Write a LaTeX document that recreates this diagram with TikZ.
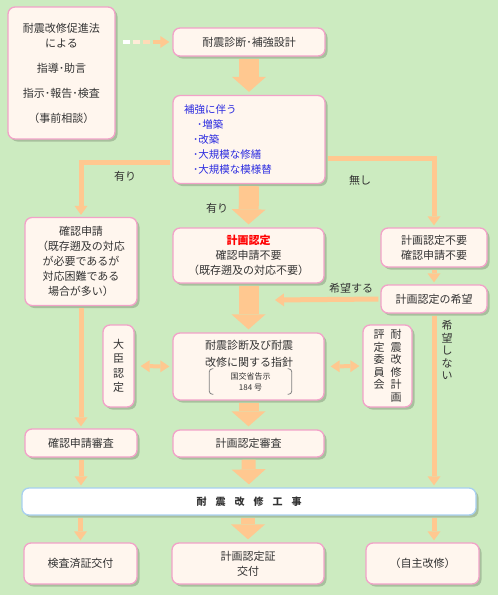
\documentclass[tikz,border=0pt]{standalone}
\usepackage{fontspec}
\setmainfont{Noto Sans CJK JP}
\usetikzlibrary{arrows.meta,shadows,calc}
\definecolor{bggreen}{HTML}{CCEBC0}
\definecolor{boxfill}{HTML}{FFF6EE}
\definecolor{boxpink}{HTML}{F2A2C8}
\definecolor{peach}{HTML}{FFC890}
\definecolor{skyline}{HTML}{A8D0F0}
\definecolor{ink}{HTML}{333333}
\definecolor{bluetext}{HTML}{2B2BE0}
\tikzset{
  box/.style={draw=boxpink, line width=1.3pt, fill=boxfill, rounded corners=7pt,
    text=ink, align=center, inner sep=0pt,
    drop shadow={shadow xshift=2.5pt, shadow yshift=-2.5pt, fill=black, opacity=0.18}},
  big/.style={draw=peach, line width=20pt, shorten <=2pt, shorten >=3pt,
    -{Triangle[width=34pt,length=15pt,line width=0pt]}},
  thin/.style={draw=peach, line width=5pt, shorten <=2pt, shorten >=2pt,
    -{Triangle[width=13pt,length=9pt,line width=0pt]}},
  both/.style={draw=peach, line width=4pt, shorten <=6pt, shorten >=3pt,
    {Triangle[width=12pt,length=9pt,line width=0pt]}-{Triangle[width=12pt,length=9pt,line width=0pt]}},
  tag/.style={text=ink}
}
\begin{document}
\begin{tikzpicture}[x=1pt,y=-1pt,font=\fontsize{11}{15}\selectfont]
\useasboundingbox (0,0) rectangle (498,595);
\fill[bggreen] (0,0) rectangle (498,595);

% boxes
\node[box, minimum width=107pt, minimum height=132pt] (law) at (61.5,73)
  {耐震改修促進法\\による\\[10pt]指導･助言\\[10pt]指示･報告･検査\\[10pt]（事前相談）};
\node[box, minimum width=152pt, minimum height=28pt] (design) at (249,42) {耐震診断･補強設計};
\node[box, minimum width=152pt, minimum height=88pt, align=left, text width=130pt,
  text=bluetext, font=\fontsize{10.5}{15}\selectfont] (works) at (249,139.5)
  {補強に伴う\\\hspace{13pt}･増築\\\hspace{9pt}･改築\\\hspace{9pt}･大規模な修繕\\\hspace{9pt}･大規模な模様替};
\node[box, minimum width=112pt, minimum height=88pt] (apply) at (81,261.5)
  {確認申請\\（既存遡及の対応\\が必要であるが\\対応困難である\\場合が多い）};
\node[box, minimum width=151pt, minimum height=55pt] (plan) at (248.5,255.5)
  {\textcolor{red}{\bfseries 計画認定}\\確認申請不要\\（既存遡及の対応不要）};
\node[box, minimum width=106pt, minimum height=39pt] (noneed) at (434,247.5) {計画認定不要\\確認申請不要};
\node[box, minimum width=106pt, minimum height=28pt] (wish) at (434,299) {計画認定の希望};
\node[box, minimum width=31pt, minimum height=82pt, font=\fontsize{11}{14.5}\selectfont] (minister) at (118.5,366)
  {大\\臣\\認\\定};
\node[box, minimum width=151pt, minimum height=67pt] (guide) at (248.5,366.5) {};
\node[text=ink, align=center] (guidetitle) at (249,354) {耐震診断及び耐震\\[1.5pt]改修に関する指針};
\node[text=ink, align=center, font=\fontsize{8}{11}\selectfont, minimum width=82pt, minimum height=25pt]
  (notice) at (250.5,381.5) {国交省告示\\184 号};
\draw[gray, line width=0.8pt, rounded corners=3pt]
  ([xshift=4pt]notice.north west) -- (notice.north west) -- (notice.south west) -- ([xshift=4pt]notice.south west);
\draw[gray, line width=0.8pt, rounded corners=3pt]
  ([xshift=-4pt]notice.north east) -- (notice.north east) -- (notice.south east) -- ([xshift=-4pt]notice.south east);
\node[box, minimum width=49pt, minimum height=82pt, font=\fontsize{11}{12.5}\selectfont] (panel) at (387.5,366)
  {\parbox[t]{11pt}{\centering 評\\定\\委\\員\\会}\hspace{6pt}\parbox[t]{11pt}{\centering 耐\\震\\改\\修\\計\\画}};
\node[box, minimum width=112pt, minimum height=28pt] (review) at (81,443) {確認申請審査};
\node[box, minimum width=151pt, minimum height=27pt] (planreview) at (248.5,443.5) {計画認定審査};
\node[box, draw=skyline, fill=white, minimum width=454pt, minimum height=27pt,
  font=\bfseries\fontsize{10}{12}\selectfont] (retrofit) at (249,501.5)
  {耐\hspace{9pt}震\hspace{9pt}改\hspace{9pt}修\hspace{9pt}工\hspace{9pt}事};
\node[box, minimum width=113pt, minimum height=41pt] (certif) at (80.5,563.5) {検査済証交付};
\node[box, minimum width=152pt, minimum height=41pt] (plancert) at (248,563.5) {計画認定証\\交付};
\node[box, minimum width=113pt, minimum height=41pt] (self) at (422.5,563.5) {（自主改修）};

% dashed arrow, fading in
\coordinate (dstart) at ([xshift=7pt]law.east |- design.west);
\foreach \i/\c in {0/0,1/35,2/65,3/100}
  \draw[peach!\c!white, line width=4pt] ($(dstart)+(\i*10,0)$) -- ++(7,0);
\draw[peach, line width=4pt, -{Triangle[width=12pt,length=9pt,line width=0pt]}]
  ($(dstart)+(40,0)$) -- ([xshift=-3pt]design.west);

% big arrows
\draw[big] (design.south) -- (works.north);
\draw[big] (works.south) -- (plan.north);
\draw[big] (plan.south) -- (guide.north);
\draw[big] (guide.south) -- (planreview.north);
\draw[big, line width=14pt] (planreview.south) -- (retrofit.north);
\draw[big, line width=14pt] (retrofit.south -| plancert.north) -- (plancert.north);

% thin arrows
\draw[thin] ([yshift=-22.5pt]works.west) -| (apply.north);
\draw[thin] ([yshift=-18.5pt]works.east) -| (noneed.north);
\draw[thin] (noneed.south) -- (noneed.south |- wish.north);
\coordinate (hopejoin) at (273,300);
\draw[thin] (wish.west) -- (hopejoin);
\draw[thin] (wish.south) -- (wish.south |- retrofit.north);
\draw[thin] (apply.south) -- (apply.south |- review.north);
\draw[thin] (review.south) -- (review.south |- retrofit.north);
\foreach \n in {certif,wish}
  \draw[thin] (retrofit.south -| \n.north) -- (\n.north |- self.north);
\draw[both] (minister.east) -- (guide.west);
\draw[both] (guide.east) -- (panel.west);

% labels
\node[tag] (yes1) at (125,176) {有り};
\node[tag] (no1) at (360,180) {無し};
\node[tag] (yes2) at (217,208) {有り};
\node[tag] (hope) at (351,288) {希望する};
\node[tag, align=center, font=\fontsize{11}{12.5}\selectfont] (nohope) at (447,350) {希\\望\\し\\な\\い};
\end{tikzpicture}
\end{document}
